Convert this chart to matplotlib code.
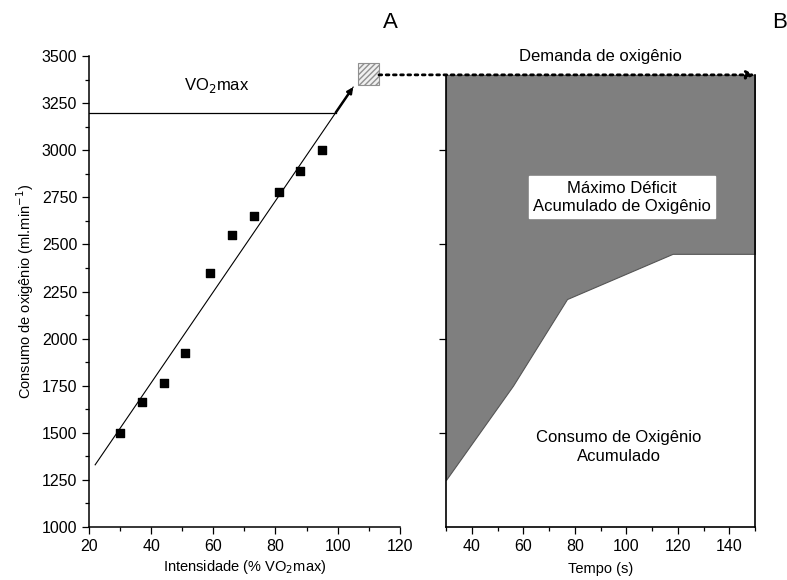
import matplotlib
matplotlib.use("Agg")
import matplotlib.pyplot as plt
from matplotlib.patches import Rectangle, ConnectionPatch
from matplotlib.ticker import MultipleLocator

plt.rcParams['font.family'] = ['Liberation Sans', 'DejaVu Sans']
plt.rcParams['font.size'] = 11.5

# Painel A: consumo de O2 vs intensidade
intensidade = [30, 37, 44, 51, 59, 66, 73, 81, 88, 95]
consumo = [1500, 1665, 1765, 1925, 2350, 2550, 2650, 2780, 2890, 3000]
reta_x = [22, 105]
reta_y = [1330, 3335]
vo2max = 3200
vo2max_x = 99.4

# Painel B: consumo acumulado vs tempo
tempo = [30, 56, 77, 118, 150]
consumo_acum = [1250, 1750, 2210, 2450, 2450]
demanda = 3400

fig = plt.figure(figsize=(7.87, 5.8), dpi=100)
axA = fig.add_axes([0.113, 0.0914, 0.395, 0.812])
axB = fig.add_axes([446 / 787, 0.0914, 309 / 787, 0.812])

# ---- A ----
axA.plot(reta_x, reta_y, color='black', lw=0.8)
axA.scatter(intensidade, consumo, marker='s', s=40, color='black', zorder=3)
axA.plot([20, vo2max_x], [vo2max, vo2max], color='black', lw=0.9)
axA.annotate('', xy=(reta_x[1], reta_y[1]), xytext=(vo2max_x, vo2max),
             arrowprops=dict(arrowstyle='-|>', color='black', lw=1.8,
                             mutation_scale=8, shrinkA=0, shrinkB=0))
axA.text(61, 3345, 'VO$_2$max', ha='center', va='center', fontsize=12)
axA.add_patch(Rectangle((106.5, 3345), 6.8, 118, facecolor='#f0f0f0',
                        edgecolor='#909090', hatch='//////', lw=0.8,
                        clip_on=False, zorder=4))
axA.set_xlim(20, 120)
axA.set_ylim(1000, 3500)
axA.xaxis.set_major_locator(MultipleLocator(20))
axA.xaxis.set_minor_locator(MultipleLocator(10))
axA.yaxis.set_major_locator(MultipleLocator(250))
axA.yaxis.set_minor_locator(MultipleLocator(125))
axA.spines['top'].set_visible(False)
axA.spines['right'].set_visible(False)
for s in axA.spines.values():
    s.set_linewidth(1.1)
axA.tick_params(which='major', length=5, width=0.9)
axA.tick_params(which='minor', length=3, width=0.9)
axA.set_xlabel('Intensidade (% VO$_2$max)', fontsize=10.5, labelpad=3)
axA.set_ylabel('Consumo de oxigênio (ml.min$^{-1}$)', fontsize=10.5)

# ---- B ----
axB.fill_between(tempo, consumo_acum, demanda, color='#7f7f7f', lw=0.8,
                 edgecolor='#555555')
axB.set_xlim(30, 150)
axB.set_ylim(1000, 3500)
axB.spines['top'].set_visible(False)
axB.spines['left'].set_bounds(1000, demanda)
axB.spines['right'].set_bounds(1000, demanda)
for s in axB.spines.values():
    s.set_linewidth(1.2)
axB.xaxis.set_major_locator(MultipleLocator(20))
axB.xaxis.set_minor_locator(MultipleLocator(10))
axB.set_xticks([40, 60, 80, 100, 120, 140])
axB.set_yticks([1500, 2000, 2500, 3000])
axB.set_yticklabels([])
axB.tick_params(which='major', length=5, width=0.9)
axB.tick_params(which='minor', length=3, width=0.9)
axB.set_xlabel('Tempo (s)', fontsize=10.5, labelpad=6)
axB.text(98.4, 2750, 'Máximo Déficit\nAcumulado de Oxigênio', ha='center',
         va='center', fontsize=12, linespacing=1.3,
         bbox=dict(facecolor='white', edgecolor='white', pad=3))
axB.text(97, 1425, 'Consumo de Oxigênio\nAcumulado', ha='center',
         va='center', fontsize=12, linespacing=1.3)
axB.text(90, 3500, 'Demanda de oxigênio', ha='center', va='center',
         fontsize=12, clip_on=False)

con = ConnectionPatch(xyA=(113.3, demanda), coordsA=axA.transData,
                      xyB=(150, demanda), coordsB=axB.transData,
                      arrowstyle='-|>', linestyle=(0, (1, 1.6)), lw=2,
                      color='black', mutation_scale=12, shrinkA=0, shrinkB=0)
fig.add_artist(con)

fig.text(390 / 787, 1 - 23 / 580, 'A', ha='center', va='center', fontsize=16)
fig.text(780 / 787, 1 - 23 / 580, 'B', ha='center', va='center', fontsize=16)

fig.savefig('out.png', dpi=100)
